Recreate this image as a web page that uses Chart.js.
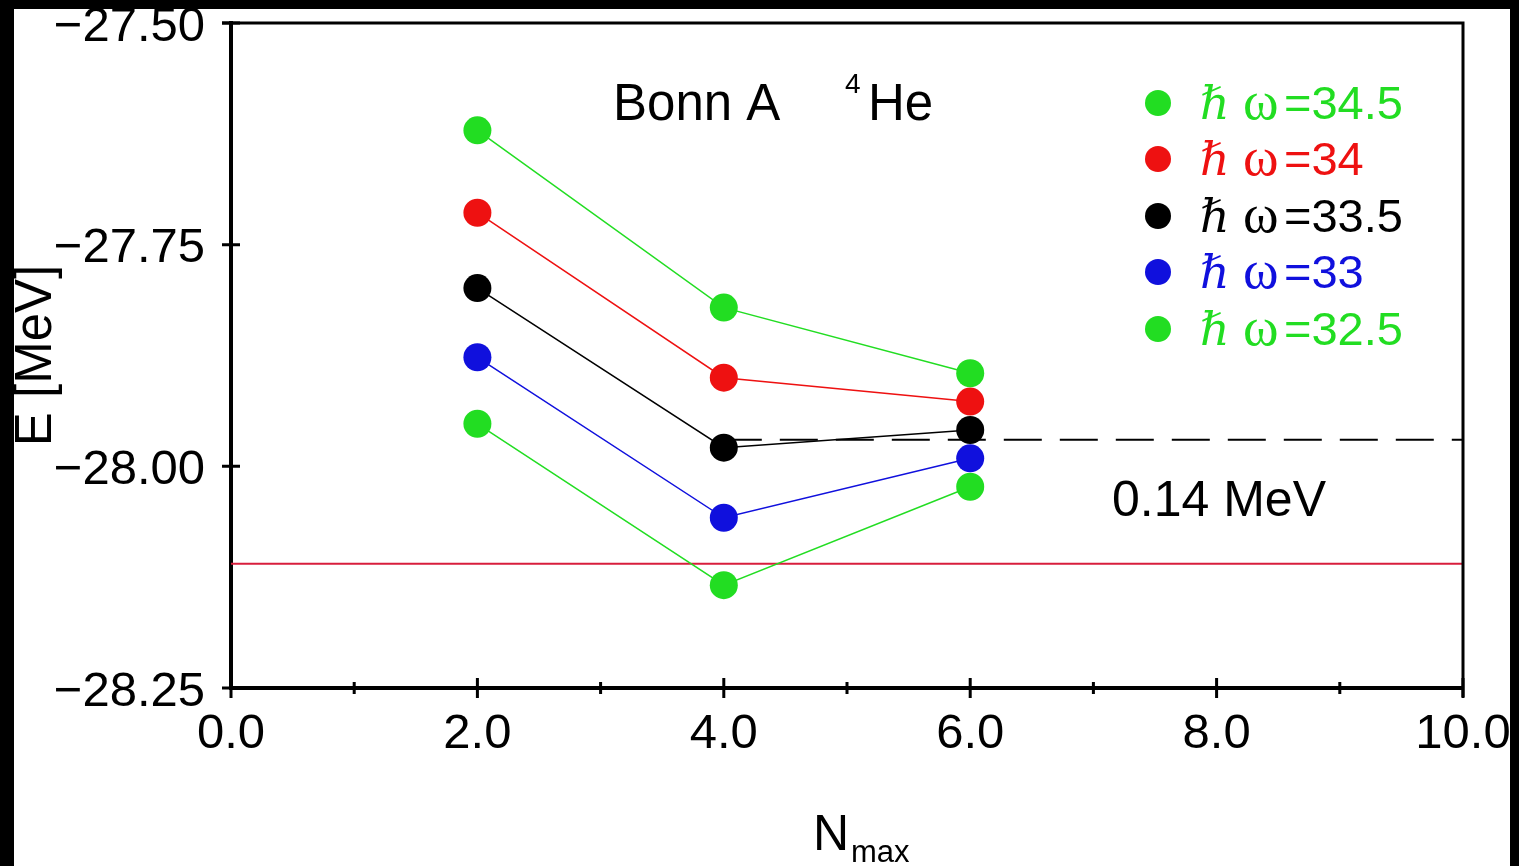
<!DOCTYPE html>
<html>
<head>
<meta charset="utf-8">
<script src="https://cdn.jsdelivr.net/npm/chart.js@4/dist/chart.umd.min.js"></script>
<style>
html,body{margin:0;padding:0;background:#fff;overflow:hidden;}
canvas{display:block;}
</style>
</head>
<body>
<canvas id="c" width="1519" height="866"></canvas>
<script>
// ---- data ----
const nmax = [2, 4, 6];
const hw345 = [-27.621, -27.821, -27.895];
const hw34  = [-27.714, -27.900, -27.927];
const hw335 = [-27.799, -27.979, -27.959];
const hw33  = [-27.877, -28.058, -27.991];
const hw325 = [-27.952, -28.134, -28.023];
const seriesLabels = ['34.5', '34', '33.5', '33', '32.5'];
const exactLevel = -28.11;     // red horizontal line
const extrapLevel = -27.97;    // dashed line
const extrapRange = [4, 10];
const xRange = [0, 10];
const yRange = [-28.25, -27.5];
const xMajorTicks = [0, 2, 4, 6, 8, 10];
const xMinorTicks = [1, 3, 5, 7, 9];
const yMajorTicks = [-27.5, -27.75, -28.0, -28.25];
const diffLabel = '0.14 MeV';

const GREEN = '#22dd22', RED = '#ee1111', BLACK = '#000000', BLUE = '#1010dd';
const colors = [GREEN, RED, BLACK, BLUE, GREEN];
const values = [hw345, hw34, hw335, hw33, hw325];

function pts(xs, ys) { return xs.map((x, i) => ({x: x, y: ys[i]})); }

const datasets = values.map((v, i) => ({
  label: '\u210F \u03C9=' + seriesLabels[i],
  data: pts(nmax, v),
  borderColor: colors[i],
  backgroundColor: colors[i],
  borderWidth: 1.5,
  pointRadius: 14,
  pointHoverRadius: 14,
  pointBorderWidth: 0,
  showLine: true,
  order: 1
}));
datasets.push({
  label: 'exact',
  data: [{x: xRange[0], y: exactLevel}, {x: xRange[1], y: exactLevel}],
  borderColor: '#d81e3c', borderWidth: 2, pointRadius: 0, showLine: true, order: 3
});
datasets.push({
  label: 'extrap',
  data: [{x: extrapRange[0], y: extrapLevel}, {x: extrapRange[1], y: extrapLevel}],
  borderColor: '#000', borderWidth: 2, borderDash: [38, 18], pointRadius: 0, showLine: true, order: 2
});

const SANS = '"Liberation Sans", Arial, Helvetica, sans-serif';
const SERIF = '"Liberation Serif", "DejaVu Serif", serif';

const decor = {
  id: 'decor',
  afterDraw(chart) {
    const ctx = chart.ctx, a = chart.chartArea;
    const xs = chart.scales.x, ys = chart.scales.y;
    ctx.save();
    // frame top/right
    ctx.strokeStyle = '#000';
    ctx.lineWidth = 3;
    ctx.beginPath();
    ctx.moveTo(a.left - 9, a.top); ctx.lineTo(a.right, a.top); ctx.lineTo(a.right, a.bottom + 9);
    ctx.stroke();
    // ticks
    ctx.lineWidth = 3;
    ctx.beginPath();
    xMajorTicks.forEach(v => { const p = xs.getPixelForValue(v); ctx.moveTo(p, a.bottom - 10); ctx.lineTo(p, a.bottom + 10); });
    xMinorTicks.forEach(v => { const p = xs.getPixelForValue(v); ctx.moveTo(p, a.bottom - 6); ctx.lineTo(p, a.bottom + 6); });
    yMajorTicks.forEach(v => { const p = ys.getPixelForValue(v); ctx.moveTo(a.left - 9, p); ctx.lineTo(a.left + 9, p); });
    ctx.stroke();
    // title
    ctx.fillStyle = '#000';
    ctx.textBaseline = 'alphabetic';
    ctx.textAlign = 'left';
    ctx.font = '51px ' + SANS;
    ctx.fillText('Bonn A', 613, 120);
    ctx.font = '28px ' + SANS;
    ctx.fillText('4', 845, 93);
    ctx.font = '51px ' + SANS;
    ctx.fillText('He', 868, 120);
    // difference label
    ctx.font = '50px ' + SANS;
    ctx.fillText(diffLabel, 1112, 516);
    // x title N_max
    ctx.font = '50px ' + SANS;
    ctx.fillText('N', 813, 850);
    ctx.font = '31px ' + SANS;
    ctx.fillText('max', 851, 862);
    // legend
    const rowY = [103, 159, 216, 272, 329];
    for (let i = 0; i < seriesLabels.length; i++) {
      const y = rowY[i];
      ctx.fillStyle = colors[i];
      ctx.beginPath(); ctx.arc(1158, y, 13, 0, Math.PI * 2); ctx.fill();
      ctx.font = 'italic 46px ' + SERIF;
      ctx.fillText('\u210F', 1200, y + 16);
      ctx.font = '54px ' + SERIF;
      ctx.fillText('\u03C9', 1243, y + 16);
      ctx.font = '47px ' + SANS;
      ctx.fillText('=' + seriesLabels[i], 1284, y + 16);
    }
    // outer black frame
    ctx.fillStyle = '#000';
    ctx.fillRect(0, 0, 14, 866);
    ctx.fillRect(0, 0, 1519, 9);
    ctx.fillRect(1510, 0, 9, 866);
    ctx.restore();
  }
};

new Chart(document.getElementById('c'), {
  type: 'scatter',
  data: { datasets: datasets },
  options: {
    responsive: false,
    animation: false,
    devicePixelRatio: 1,
    layout: { padding: { left: 6, top: 23, right: 56, bottom: 0 } },
    plugins: { legend: { display: false }, tooltip: { enabled: false }, title: { display: false } },
    scales: {
      x: {
        type: 'linear', min: xRange[0], max: xRange[1],
        grid: { display: false, drawTicks: false },
        border: { display: true, color: '#000', width: 4 },
        ticks: {
          stepSize: 2, autoSkip: false, maxRotation: 0, padding: 17, color: '#000',
          font: { family: SANS, size: 49 },
          callback: v => Number(v).toFixed(1)
        },
        afterBuildTicks: s => { s.ticks = xMajorTicks.map(v => ({value: v})); },
        afterFit: s => { s.height = 178; s.paddingLeft = 0; s.paddingRight = 0; }
      },
      y: {
        type: 'linear', min: yRange[0], max: yRange[1],
        grid: { display: false, drawTicks: false },
        border: { display: true, color: '#000', width: 4 },
        ticks: {
          autoSkip: false, padding: 26, color: '#000', labelOffset: 4,
          font: { family: SANS, size: 49, lineHeight: 0.9 },
          callback: v => (v < 0 ? '\u2212' : '') + Math.abs(v).toFixed(2)
        },
        afterBuildTicks: s => { s.ticks = yMajorTicks.map(v => ({value: v})); },
        title: { display: true, text: 'E [MeV]', color: '#000', padding: 0, font: { family: SANS, size: 51 } },
        afterFit: s => { s.width = 225; s.paddingTop = 0; s.paddingBottom = 0; }
      }
    }
  },
  plugins: [decor]
});
</script>
</body>
</html>
